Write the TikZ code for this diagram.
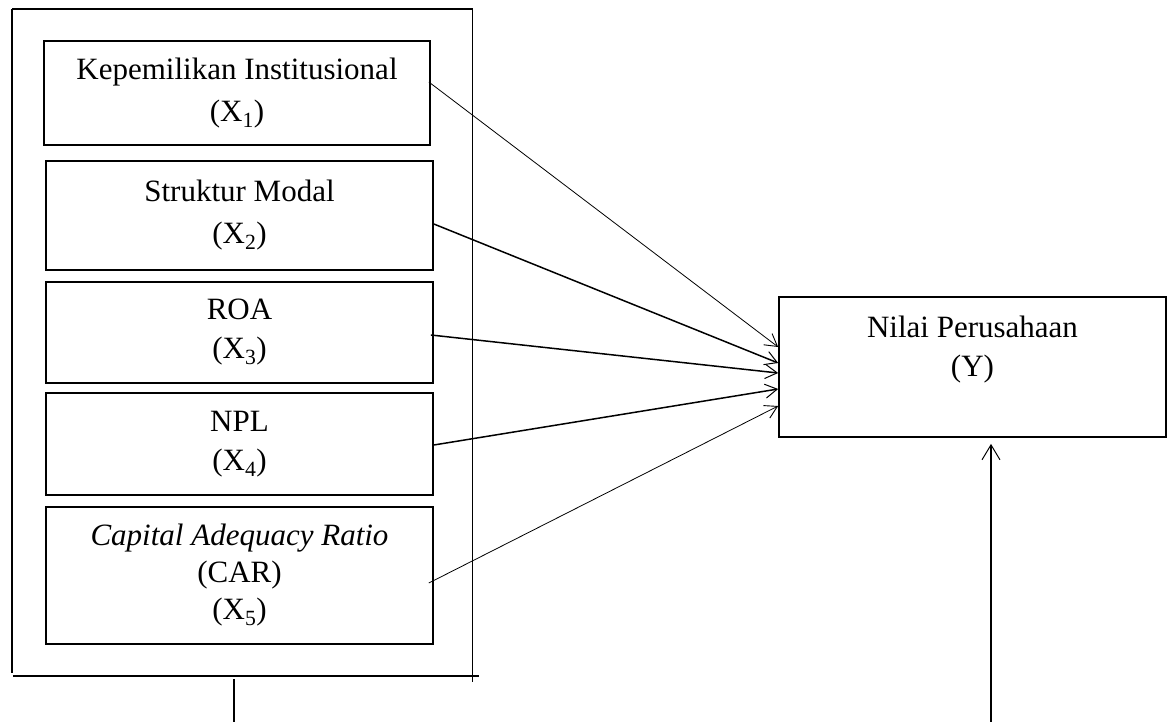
\documentclass[tikz,border=0pt]{standalone}
\usepackage{fontspec}
\setmainfont{Liberation Serif}
\usetikzlibrary{arrows.meta}
\tikzset{
  varbox/.style={draw, line width=1.7pt, align=center, inner sep=0pt,
    font=\fontsize{31}{39}\selectfont},
  wide/.style={font=\fontsize{31}{42}\selectfont},
  frame/.style={line width=1.6pt},
  thinarrow/.style={line width=0.8pt, -{Straight Barb[length=12pt,width=14pt,line width=0.9pt]}},
  thickarrow/.style={line width=1.5pt, -{Straight Barb[length=12pt,width=14pt,line width=1pt]}},
  yarrow/.style={line width=1.3pt, -{Straight Barb[length=15pt,width=18pt,line width=1pt]}}
}
\begin{document}
\begin{tikzpicture}[x=1pt,y=-1pt]
\useasboundingbox (0,0) rectangle (1171,722);

% outer frame
\coordinate (ftl) at (12,9);
\coordinate (ftr) at (472.5,9);
\coordinate (fbl) at (12,673);
\coordinate (fbr) at (472.5,682);
\coordinate (bl) at (13,676);
\coordinate (br) at (479,676);
\draw[frame] (ftl) -- (ftr);
\draw[frame] (ftl) -- (fbl);
\draw[frame] (ftr) -- (fbr);
\draw[frame] (bl) -- (br);
\coordinate (stubtop) at (234,679);
\coordinate (stubbot) at (234,722);
\draw[frame] (stubtop) -- (stubbot);

% variable boxes
\node[varbox, wide, minimum width=386pt, minimum height=104pt] (b1) at (237,93)
  {Kepemilikan Institusional\\(X\textsubscript{1})};
\node[varbox, wide, minimum width=387pt, minimum height=109pt] (b2) at (239.5,215.5)
  {Struktur Modal\\(X\textsubscript{2})};
\node[varbox, minimum width=387pt, minimum height=101pt] (b3) at (239.5,332.5)
  {ROA\\(X\textsubscript{3})};
\node[varbox, minimum width=387pt, minimum height=102pt] (b4) at (239.5,444)
  {NPL\\(X\textsubscript{4})};
\node[varbox, font=\fontsize{31}{37}\selectfont, minimum width=387pt, minimum height=137pt] (b5) at (239.5,575.5)
  {\textit{Capital Adequacy Ratio}\\(CAR)\\(X\textsubscript{5})};

% dependent box
\node[varbox, minimum width=387pt, minimum height=140pt] (y) at (972.5,367) {};
\node[align=center, inner sep=0pt, anchor=north, font=\fontsize{31}{39}\selectfont]
  (ylab) at ([yshift=-20pt]y.north) {Nilai Perusahaan\\(Y)};

% arrows
\draw[thinarrow] ([xshift=-2pt,yshift=11pt]b1.east) -- ([yshift=20pt]y.west);
\draw[thickarrow] ([yshift=-8.5pt]b2.east) -- ([yshift=4pt]y.west);
\draw[thickarrow] ([xshift=-3pt,yshift=-2.5pt]b3.east) -- ([yshift=-6pt]y.west);
\draw[thickarrow] ([yshift=-1pt]b4.east) -- ([yshift=-22pt]y.west);
\draw[thinarrow] ([xshift=-5pt,yshift=-7.5pt]b5.east) -- ([yshift=-39pt]y.west);

\coordinate (yin) at (991,722);
\draw[yarrow] (yin) -- ([xshift=18.5pt,yshift=-6pt]y.south);
\end{tikzpicture}
\end{document}
